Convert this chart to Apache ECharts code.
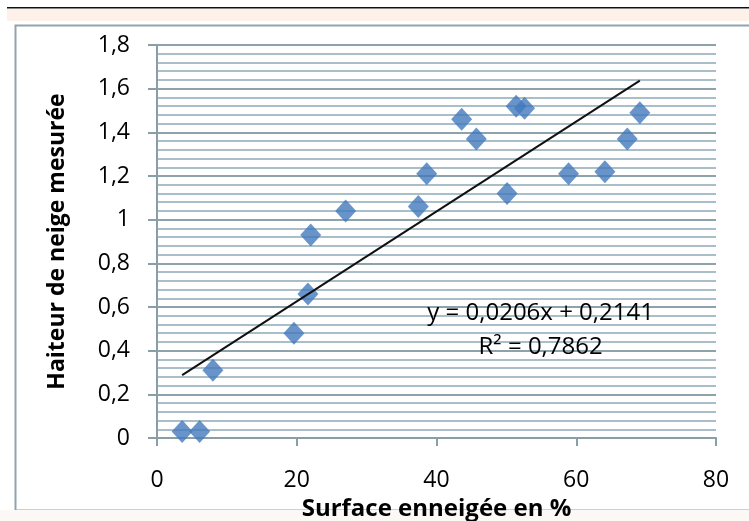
<!DOCTYPE html>
<html>
<head>
<meta charset="utf-8">
<script src="https://cdn.jsdelivr.net/npm/echarts@6/dist/echarts.min.js"></script>
<style>
  html, body { margin: 0; padding: 0; background: #fff; }
  #container { width: 749px; height: 521px; }
</style>
</head>
<body>
<div id="container"></div>
<script>
// surface enneigée (%) et hauteur de neige mesurée
var surface = [3.6, 6.1, 8.0, 19.6, 21.6, 22.0, 27.0, 37.4, 38.6, 43.6, 45.7, 50.1, 51.4, 52.6, 58.9, 64.1, 67.3, 69.1];
var hauteur = [0.03, 0.03, 0.31, 0.48, 0.66, 0.93, 1.04, 1.06, 1.21, 1.46, 1.37, 1.12, 1.52, 1.51, 1.21, 1.22, 1.37, 1.49];

// courbe de tendance (extrémités)
var trendX = [3.6, 69.1];
var trendY = [0.288, 1.637];

var equation = 'y = 0,0206x + 0,2141';
var r2 = 'R² = 0,7862';

var font = 'Open Sans';
var myChart = echarts.init(document.getElementById('container'));

var points = surface.map(function (x, i) { return [x, hauteur[i]]; });
var trend = trendX.map(function (x, i) { return [x, trendY[i]]; });

option = {
    animation: false,
    backgroundColor: '#fff',
    textStyle: { fontFamily: font },
    graphic: [
        { type: 'rect', left: 7, top: 7, shape: { width: 742, height: 1.5 }, style: { fill: '#111' }, silent: true, z: -10 },
        { type: 'rect', left: 7, top: 9, shape: { width: 742, height: 12 }, style: { fill: '#fdf1ea' }, silent: true, z: -10 },
        { type: 'rect', left: 13, top: 23, shape: { width: 740, height: 485 }, style: { fill: 'none', stroke: '#8fa5ad', lineWidth: 2 }, silent: true, z: -10 },
        { type: 'rect', left: 0, top: 510, shape: { width: 749, height: 11 }, style: { fill: '#fbf8f6' }, silent: true, z: -10 }
    ],
    grid: { left: 157, right: 33, top: 45, bottom: 83, containLabel: false, outerBoundsMode: 'none' },
    xAxis: {
        type: 'value',
        min: 0, max: 80, interval: 20,
        name: 'Surface enneigée en %',
        nameLocation: 'middle',
        nameGap: 52,
        nameTextStyle: { fontFamily: font, fontWeight: 'bold', fontSize: 24, color: '#000' },
        axisLine: { show: true, lineStyle: { color: '#8a9ea8', width: 2 } },
        axisTick: { show: true, length: 8, lineStyle: { color: '#8a9ea8', width: 2 } },
        axisLabel: { fontSize: 23, color: '#000', margin: 31 },
        splitLine: { show: false }
    },
    yAxis: {
        type: 'value',
        min: 0, max: 1.8, interval: 0.2,
        name: 'Haiteur de neige mesurée',
        nameLocation: 'middle',
        nameGap: 88,
        nameTextStyle: { fontFamily: font, fontWeight: 'bold', fontSize: 23, color: '#000' },
        axisLine: { show: true, lineStyle: { color: '#8a9ea8', width: 2 } },
        axisTick: { show: true, length: 9, lineStyle: { color: '#8a9ea8', width: 2 } },
        axisLabel: {
            fontSize: 23, color: '#000', margin: 27,
            formatter: function (v) { return String(Math.round(v * 10) / 10).replace('.', ','); }
        },
        splitLine: { show: true, lineStyle: { color: '#8ea2ac', width: 2 } },
        minorTick: { show: false, splitNumber: 5 },
        minorSplitLine: { show: true, lineStyle: { color: '#a9bec8', width: 2 } }
    },
    series: [{
        type: 'scatter',
        symbol: 'diamond',
        symbolSize: [21, 23],
        itemStyle: { color: '#4279bd' },
        data: points,
        z: 3
    }, {
        type: 'line',
        data: trend,
        showSymbol: false,
        lineStyle: { color: '#111', width: 2 },
        z: 4
    }]
};

myChart.setOption(option);

// équation affichée à côté de la courbe
var eqPos = myChart.convertToPixel({ gridIndex: 0 }, [54.9, 0.495]);
myChart.setOption({
    graphic: option.graphic.concat([{
        type: 'text',
        x: eqPos[0],
        y: eqPos[1],
        style: {
            text: equation + '\n' + r2,
            font: '24px "' + font + '"',
            fill: '#000',
            textAlign: 'center',
            textVerticalAlign: 'middle',
            lineHeight: 34
        },
        silent: true,
        z: 10
    }])
});
</script>
</body>
</html>
